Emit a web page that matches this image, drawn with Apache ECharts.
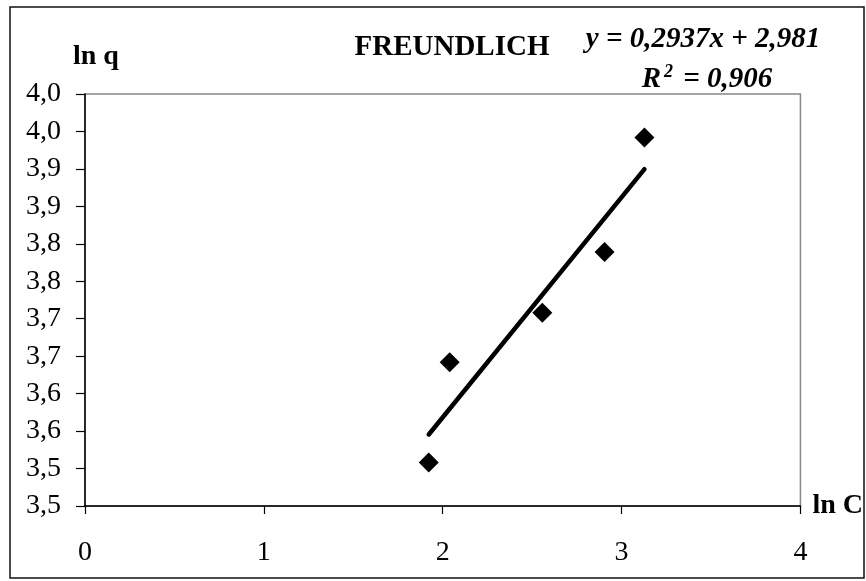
<!DOCTYPE html>
<html>
<head>
<meta charset="utf-8">
<script src="https://cdn.jsdelivr.net/npm/echarts@6/dist/echarts.min.js"></script>
<style>
html,body{margin:0;padding:0;background:#fff;}
#chart{width:866px;height:581px;}
</style>
</head>
<body>
<div id="chart"></div>
<script>
// ---- data ----
var lnC = [1.922, 2.039, 2.557, 2.905, 3.128];
var lnQ = [3.508, 3.642, 3.708, 3.789, 3.942];
var trendSlope = 0.2937;
var trendIntercept = 2.981;
var equationText = 'y = 0,2937x + 2,981';
var r2Text = '0,906';
var chartTitle = 'FREUNDLICH';
var xTickLabels = ['0', '1', '2', '3', '4'];
var yTickLabels = ['3,5', '3,5', '3,6', '3,6', '3,7', '3,7', '3,8', '3,8', '3,9', '3,9', '4,0', '4,0'];
var yMin = 3.45, yMax = 4.00, yStep = 0.05;

var points = lnC.map(function (x, i) { return [x, lnQ[i]]; });
var xLo = Math.min.apply(null, lnC), xHi = Math.max.apply(null, lnC);
var trend = [[xLo, trendSlope * xLo + trendIntercept], [xHi, trendSlope * xHi + trendIntercept]];

var serif = '"Liberation Serif", "Times New Roman", serif';
var chart = echarts.init(document.getElementById('chart'));
chart.setOption({
  animation: false,
  backgroundColor: '#ffffff',
  title: {
    text: chartTitle,
    left: 447, top: 28, textAlign: 'center',
    textStyle: { fontFamily: serif, fontWeight: 'bold', fontSize: 29, color: '#000' }
  },
  graphic: [
    { type: 'rect', shape: { x: 10, y: 7, width: 854, height: 571 },
      style: { fill: 'none', stroke: '#111', lineWidth: 1.5 }, silent: true },
    { type: 'text', x: 703, y: 40,
      style: { text: equationText, fontFamily: serif, fontWeight: 'bold', fontStyle: 'italic',
               fontSize: 29, fill: '#000', align: 'center', verticalAlign: 'middle' } },
    { type: 'text', x: 707, y: 80,
      style: { text: '{r|R}{s|2}{r| = ' + r2Text + '}',
               align: 'center', verticalAlign: 'middle',
               rich: {
                 r: { fontFamily: serif, fontWeight: 'bold', fontStyle: 'italic', fontSize: 29, fill: '#000', lineHeight: 34 },
                 s: { fontFamily: serif, fontWeight: 'bold', fontStyle: 'italic', fontSize: 18, fill: '#000', verticalAlign: 'top', lineHeight: 34, padding: [0, 3, 14, 3] }
               } } }
  ],
  grid: { left: 85, right: 64, top: 94, bottom: 75, show: true, borderColor: '#888', borderWidth: 1.5, backgroundColor: 'transparent' },
  xAxis: {
    type: 'value', min: 0, max: 4, interval: 1,
    name: 'ln C', nameLocation: 'end', nameGap: 12,
    nameTextStyle: { fontFamily: serif, fontWeight: 'bold', fontSize: 28, color: '#000' },
    axisLine: { show: true, onZero: false, lineStyle: { color: '#000', width: 1.5 } },
    axisTick: { show: true, inside: false, length: 8, lineStyle: { color: '#000', width: 1.2 } },
    splitLine: { show: false },
    axisLabel: { margin: 33, fontFamily: serif, fontSize: 28, color: '#000',
      formatter: function (v) { return xTickLabels[Math.round(v)]; } }
  },
  yAxis: {
    type: 'value', min: yMin, max: yMax, interval: yStep,
    name: 'ln q', nameLocation: 'end', nameGap: 23,
    nameTextStyle: { fontFamily: serif, fontWeight: 'bold', fontSize: 28, color: '#000', align: 'left', padding: [0, 0, 0, -12] },
    axisLine: { show: true, onZero: false, lineStyle: { color: '#000', width: 1.5 } },
    axisTick: { show: true, inside: false, length: 9, lineStyle: { color: '#000', width: 1.2 } },
    splitLine: { show: false },
    axisLabel: { margin: 24, fontFamily: serif, fontSize: 28, color: '#000',
      formatter: function (v) { return yTickLabels[Math.round((v - yMin) / yStep)]; } }
  },
  series: [
    { type: 'line', data: trend, symbol: 'none', silent: true,
      lineStyle: { color: '#000', width: 4.5, cap: 'round' }, z: 2 },
    { type: 'scatter', data: points, symbol: 'diamond', symbolSize: 20,
      itemStyle: { color: '#000', opacity: 1 }, z: 3 }
  ]
});
</script>
</body>
</html>
